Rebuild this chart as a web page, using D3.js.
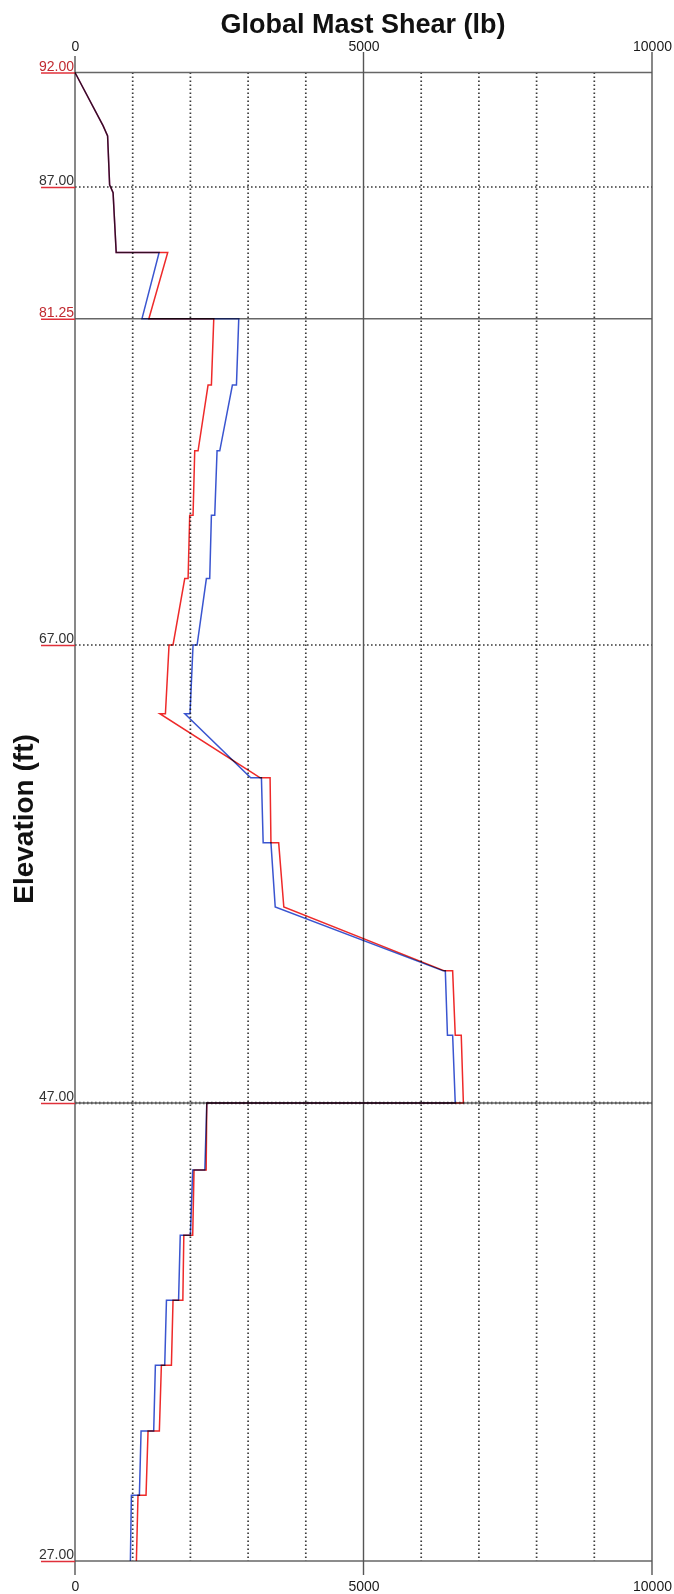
<!DOCTYPE html>
<html lang="en">
<head>
<meta charset="UTF-8">
<title>Global Mast Shear</title>
<style>
  body { margin: 0; background: #fff; }
  svg text { font-family: "Liberation Sans", Arial, sans-serif; }
  .series { mix-blend-mode: multiply; }
</style>
</head>
<body>
<script src="https://d3js.org/d3.v7.min.js"></script>
<div id="chart"></div>
<script>
  // [elevation ft, shear lb]
  const redSeries = [
    [92, 0], [89.67, 488], [89.23, 565], [87.1, 600], [86.75, 660], [84.14, 714],
    [84.14, 1607], [81.25, 1280], [81.25, 2405], [78.35, 2364], [78.35, 2306],
    [75.48, 2133], [75.48, 2075], [72.67, 2046], [72.67, 1988], [69.9, 1960],
    [69.9, 1902], [67.0, 1699], [67.0, 1630], [64.0, 1567], [64.0, 1470],
    [61.2, 3209], [61.2, 3381], [58.36, 3396], [58.36, 3530], [55.56, 3619],
    [52.77, 6403], [52.77, 6545], [49.96, 6590], [49.96, 6694], [47, 6731],
    [47, 2284], [44.07, 2273], [44.07, 2063], [41.23, 2040], [41.23, 1886],
    [38.39, 1869], [38.39, 1699], [35.55, 1671], [35.55, 1497], [32.68, 1462],
    [32.68, 1266], [29.87, 1231], [29.87, 1092], [27, 1064]
  ];
  const blueSeries = [
    [92, 0], [89.67, 488], [89.23, 565], [87.1, 600], [86.75, 660], [84.14, 714],
    [84.14, 1458], [81.25, 1161], [81.25, 2838], [78.35, 2798], [78.35, 2728],
    [75.48, 2509], [75.48, 2462], [72.67, 2422], [72.67, 2364], [69.9, 2335],
    [69.9, 2277], [67.0, 2116], [67.0, 2046], [64.0, 1993], [64.0, 1903],
    [61.2, 3045], [61.2, 3231], [58.36, 3261], [58.36, 3396], [55.56, 3470],
    [52.77, 6381], [52.77, 6418], [49.96, 6455], [49.96, 6545], [47, 6590],
    [47, 2284], [44.07, 2250], [44.07, 2040], [41.23, 2000], [41.23, 1824],
    [38.39, 1795], [38.39, 1585], [35.55, 1555], [35.55, 1393], [32.68, 1364],
    [32.68, 1145], [29.87, 1116], [29.87, 977], [27, 960]
  ];
  const xTicks = [0, 5000, 10000];
  const xDotted = [1000, 2000, 3000, 4000, 6000, 7000, 8000, 9000];
  const elevTicks = [92, 87, 81.25, 67, 47, 27];
  const elevSolid = [92, 81.25, 47, 27];
  const elevDotted = [87, 67, 47];
  const redLabels = [92, 81.25];

  const W = 674, H = 1594;
  const x = d3.scaleLinear().domain([0, 10000]).range([75, 652]);
  const y = d3.scaleLinear().domain([27, 92]).range([1561, 72.5]);

  const svg = d3.select("#chart").append("svg")
      .attr("width", W)
      .attr("height", H);

  // title
  svg.append("text")
      .attr("x", 363)
      .attr("y", 33)
      .attr("text-anchor", "middle")
      .attr("font-size", 27)
      .attr("font-weight", "bold")
      .attr("fill", "#111")
      .text("Global Mast Shear (lb)");

  svg.append("text")
      .attr("transform", "translate(33,819) rotate(-90)")
      .attr("text-anchor", "middle")
      .attr("font-size", 28)
      .attr("font-weight", "bold")
      .attr("fill", "#111")
      .text("Elevation (ft)");

  // grid
  svg.selectAll(".vdot").data(xDotted).enter().append("line")
      .attr("x1", d => x(d)).attr("x2", d => x(d))
      .attr("y1", y(92)).attr("y2", y(27))
      .attr("stroke", "#3a3a3a")
      .attr("stroke-width", 1.7)
      .attr("stroke-dasharray", "1.6,2.4");

  svg.selectAll(".hdot").data(elevDotted).enter().append("line")
      .attr("x1", x(0)).attr("x2", x(10000))
      .attr("y1", d => y(d)).attr("y2", d => y(d))
      .attr("stroke", "#3a3a3a")
      .attr("stroke-width", d => d === 47 ? 2.6 : 1.7)
      .attr("stroke-dasharray", "1.6,2.4");

  svg.selectAll(".hsolid").data(elevSolid).enter().append("line")
      .attr("x1", x(0)).attr("x2", x(10000))
      .attr("y1", d => y(d)).attr("y2", d => y(d))
      .attr("stroke", "#666")
      .attr("stroke-width", 1.4);

  svg.selectAll(".vsolid").data(xTicks).enter().append("line")
      .attr("x1", d => x(d)).attr("x2", d => x(d))
      .attr("y1", d => d === 0 ? 56 : 52).attr("y2", 1575)
      .attr("stroke", "#555")
      .attr("stroke-width", 1.4);

  // axes (labels only)
  const topAxis = svg.append("g")
      .attr("transform", `translate(0,${y(92)})`)
      .call(d3.axisTop(x).tickValues(xTicks).tickSize(0).tickPadding(21.5).tickFormat(d3.format("d")));
  const bottomAxis = svg.append("g")
      .attr("transform", `translate(0,${y(27)})`)
      .call(d3.axisBottom(x).tickValues(xTicks).tickSize(0).tickPadding(20).tickFormat(d3.format("d")));
  [topAxis, bottomAxis].forEach(g => {
    g.select(".domain").remove();
    g.selectAll("text")
        .attr("font-family", "'Liberation Sans', Arial, sans-serif")
        .attr("font-size", 14)
        .attr("fill", "#1a1a1a");
  });

  const leftAxis = svg.append("g")
      .attr("transform", `translate(${x(0)},0)`)
      .call(d3.axisLeft(y).tickValues(elevTicks).tickSize(34).tickFormat(d3.format(".2f")));
  leftAxis.select(".domain").remove();
  leftAxis.selectAll(".tick line")
      .attr("stroke", "#e0303a")
      .attr("stroke-width", 1.5);
  leftAxis.selectAll(".tick text")
      .attr("x", -1)
      .attr("dy", -2.5)
      .attr("font-family", "'Liberation Sans', Arial, sans-serif")
      .attr("font-size", 14)
      .attr("fill", d => redLabels.includes(d) ? "#c02a30" : "#333");

  // series
  const line = d3.line()
      .x(d => x(d[1]))
      .y(d => y(d[0]));

  svg.append("path")
      .datum(redSeries)
      .attr("class", "series")
      .attr("d", line)
      .attr("fill", "none")
      .attr("stroke", "#ee2a2a")
      .attr("stroke-width", 1.5);

  svg.append("path")
      .datum(blueSeries)
      .attr("class", "series")
      .attr("d", line)
      .attr("fill", "none")
      .attr("stroke", "#3a55d0")
      .attr("stroke-width", 1.5);
</script>
</body>
</html>
